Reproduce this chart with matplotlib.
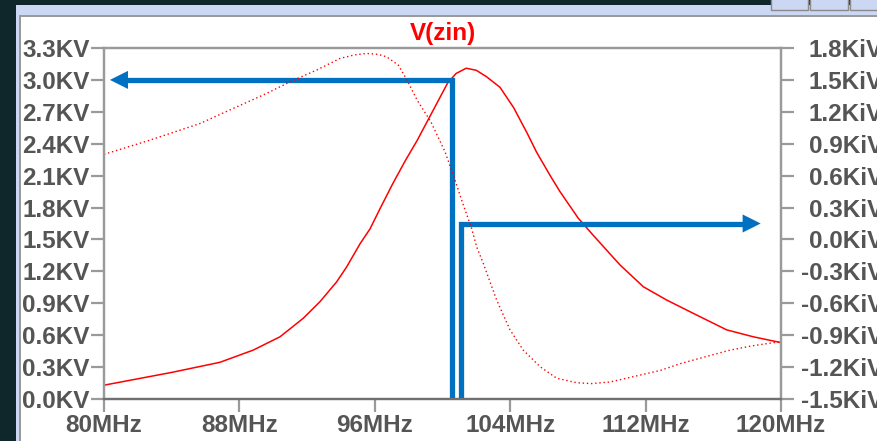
import numpy as np
import matplotlib
matplotlib.use('Agg')
import matplotlib.pyplot as plt
from matplotlib.patches import Rectangle, FancyArrowPatch

plt.rcParams['font.family'] = ['Liberation Sans', 'DejaVu Sans']

# magnitude of V(zin), KV (left axis)
freq_mag = [80, 82, 84, 85.5, 86.85, 88.82, 90.4, 91.78, 92.76, 93.74, 94.33,
            95.13, 95.72, 96.31, 97.08, 97.8, 98.5, 99.3, 100.3, 100.8, 101.4,
            102, 102.6, 103.4, 104.2, 105, 105.56, 106.4, 106.94, 108.02,
            108.9, 110.49, 111.87, 113.25, 114.82, 116.79, 118.36, 120]
mag_kv = [0.13, 0.19, 0.25, 0.30, 0.345, 0.46, 0.585, 0.76, 0.915, 1.10, 1.24,
          1.46, 1.60, 1.79, 2.03, 2.24, 2.43, 2.67, 2.97, 3.06, 3.11, 3.09,
          3.03, 2.93, 2.74, 2.50, 2.32, 2.09, 1.95, 1.70, 1.54, 1.26, 1.055,
          0.93, 0.805, 0.65, 0.585, 0.53]

# phase of V(zin), KiV (right axis, dotted)
freq_ph = [80, 82.72, 85.67, 87.64, 89.61, 90.99, 92.56, 93.94, 94.8, 95.52,
           96.2, 96.7, 97.39, 97.9, 98.5, 99.3, 100.15, 100.74, 101.13,
           101.72, 102.02, 102.41, 103.2, 103.99, 104.77, 105.76, 106.75,
           107.93, 108.8, 109.9, 111, 112.9, 114, 115.6, 117, 118.3, 120]
phase_kiv = [0.80, 0.934, 1.09, 1.232, 1.373, 1.482, 1.592, 1.702, 1.735,
             1.749, 1.74, 1.717, 1.639, 1.50, 1.31, 1.11, 0.824, 0.558, 0.37,
             0.104, -0.07, -0.225, -0.57, -0.85, -1.04, -1.196, -1.305, -1.347,
             -1.355, -1.34, -1.30, -1.23, -1.17, -1.10, -1.04, -1.00, -0.96]

x_ticks = [80, 88, 96, 104, 112, 120]
left_ticks = np.round(np.arange(0, 3.31, 0.3), 1)
right_ticks = np.round(np.arange(-1.5, 1.81, 0.3), 1)

# annotation arrows (MHz, KV)
arrow1_x, arrow1_y, arrow1_end = 100.56, 3.0, 80.35
arrow2_x, arrow2_y, arrow2_end = 101.09, 1.65, 118.8

W, H = 877, 441
fig = plt.figure(figsize=(W / 100, H / 100), dpi=100)
fig.patch.set_facecolor('white')

# window decoration
def px_rect(x0, y0, w, h, color, edge=None):
    fig.patches.append(Rectangle((x0 / W, 1 - (y0 + h) / H), w / W, h / H,
                                 transform=fig.transFigure, facecolor=color,
                                 edgecolor=edge or 'none', zorder=0,
                                 linewidth=1 if edge else 0))

px_rect(0, 0, W, 5, '#0f262a')
px_rect(0, 0, 16, H, '#0f262a')
px_rect(16, 5, W - 16, 10, '#ccd7f4')
px_rect(16, 5, 3, H - 5, '#ccd7f4')
px_rect(19, 15, W - 19, 2, '#9a9a9a')
px_rect(19, 15, 2, H - 15, '#9a9a9a')
for bx, bw in [(771, 37), (810, 38), (850, 30)]:
    px_rect(bx, -2, bw, 12, '#ccd7f4', edge='#8a8a8a')

ax = fig.add_axes([104 / W, 1 - 399 / H, (781 - 104) / W, (399 - 48) / H])
ax2 = ax.twinx()

ax.plot(freq_mag, mag_kv, color='red', lw=1.1)
ax2.plot(freq_ph, phase_kiv, color='red', lw=1.0, linestyle=(0, (1, 2)))

ax.set_xlim(80, 120)
ax.set_ylim(0, 3.3)
ax2.set_ylim(-1.5, 1.8)

ax.set_xticks(x_ticks)
ax.set_xticklabels([f'{v}MHz' for v in x_ticks])
ax.set_yticks(left_ticks)
ax.set_yticklabels([f'{v:.1f}KV' for v in left_ticks])
ax2.set_yticks(right_ticks)
ax2.set_yticklabels([f'{v:.1f}KiV'.replace('-0.0', '0.0') for v in right_ticks])

for a in (ax, ax2):
    a.tick_params(direction='out', length=9.5, width=1.6, color='#9a9a9a',
                  labelcolor='#555555', labelsize=17.5, pad=1)
    for lab in a.get_xticklabels() + a.get_yticklabels():
        lab.set_fontweight('bold')
    for s in a.spines.values():
        s.set_color('#9a9a9a')
        s.set_linewidth(1.6)
ax.spines['bottom'].set_color('#707070')
ax2.spines['bottom'].set_color('#707070')
# right labels are right-aligned and run off the window edge
ax2.tick_params(axis='y', pad=64)
for lab in ax2.get_yticklabels():
    lab.set_horizontalalignment('right')

ax.set_title('V(zin)', color='red', fontsize=17.5, fontweight='bold', pad=6)

blue = '#0070c0'
ax.plot([arrow1_x, arrow1_x, arrow1_end + 1.0], [0, arrow1_y, arrow1_y],
        color=blue, lw=3.8, solid_joinstyle='miter', solid_capstyle='butt',
        clip_on=False, zorder=5)
ax.add_patch(FancyArrowPatch((arrow1_end + 1.2, arrow1_y), (arrow1_end, arrow1_y),
                             arrowstyle='-|>,head_length=1.3,head_width=0.65',
                             mutation_scale=10, color=blue, lw=0, shrinkA=0,
                             shrinkB=0, zorder=5))
ax.plot([arrow2_x, arrow2_x, arrow2_end - 1.0], [0, arrow2_y, arrow2_y],
        color=blue, lw=3.8, solid_joinstyle='miter', solid_capstyle='butt',
        clip_on=False, zorder=5)
ax.add_patch(FancyArrowPatch((arrow2_end - 1.2, arrow2_y), (arrow2_end, arrow2_y),
                             arrowstyle='-|>,head_length=1.3,head_width=0.65',
                             mutation_scale=10, color=blue, lw=0, shrinkA=0,
                             shrinkB=0, zorder=5))

fig.savefig('out.png', dpi=100)
